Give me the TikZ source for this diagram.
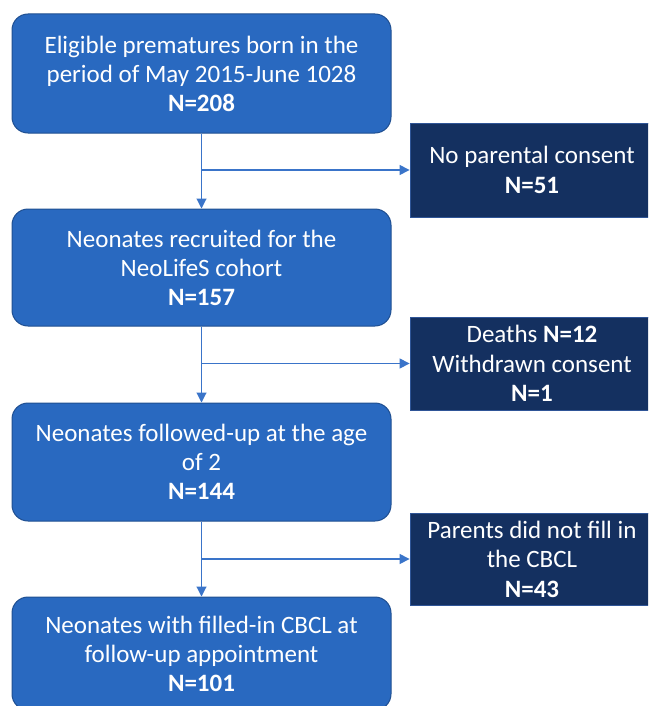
\documentclass[tikz,border=0pt]{standalone}
\usepackage{fontspec}
\setmainfont{Carlito}
\usetikzlibrary{arrows.meta}
\definecolor{mainfill}{HTML}{2969C0}
\definecolor{mainedge}{HTML}{1F4F91}
\definecolor{sidefill}{HTML}{143060}
\definecolor{sideedge}{HTML}{2F5597}
\definecolor{linkcol}{HTML}{3A74C9}
\tikzset{
  mainbox/.style={draw=mainedge, line width=1pt, fill=mainfill, rounded corners=16pt,
    minimum width=379pt, inner sep=0pt, align=center, text=white,
    font=\fontsize{25}{29}\selectfont},
  sidebox/.style={draw=sideedge, line width=0.8pt, fill=sidefill,
    minimum width=244pt, inner sep=0pt, align=center, text=white,
    font=\fontsize{25}{29.5}\selectfont},
  link/.style={draw=linkcol, line width=1.1pt, -{Triangle[length=10pt,width=10pt]}},
  plain/.style={draw=linkcol, line width=1.1pt}
}
\begin{document}
\begin{tikzpicture}[x=1pt,y=-1pt]
\useasboundingbox (0,0) rectangle (648,706);
\begin{scope}
\clip (0,0) rectangle (648,706);
\node[mainbox, minimum height=119pt] (b1) at (201.5,73.5)
  {Eligible prematures born in the\\period of May 2015-June 1028\\\textbf{N=208}};
\node[mainbox, minimum height=117pt] (b2) at (201.5,267.5)
  {Neonates recruited for the\\NeoLifeS cohort\\\textbf{N=157}};
\node[mainbox, minimum height=118pt] (b3) at (201.5,462)
  {Neonates followed-up at the age\\of 2\\\textbf{N=144}};
\node[mainbox, minimum height=113pt] (b4) at (201.5,653.5)
  {Neonates with filled-in CBCL at\\follow-up appointment\\\textbf{N=101}};
\node[sidebox, minimum height=94pt] (s1) at (532,170)
  {No parental consent\\\textbf{N=51}};
\node[sidebox, minimum height=93pt] (s2) at (532,363.5)
  {Deaths \textbf{N=12}\\Withdrawn consent\\\textbf{N=1}};
\node[sidebox, minimum height=92pt] (s3) at (532,559)
  {Parents did not fill in\\the CBCL\\\textbf{N=43}};
\end{scope}
\coordinate (j1) at (b1.south |- s1.west);
\coordinate (j2) at (b2.south |- s2.west);
\coordinate (j3) at (b3.south |- s3.west);
\draw[link] (b1.south) -- (b2.north);
\draw[link] (b2.south) -- (b3.north);
\draw[link] (b3.south) -- (b4.north);
\draw[link] (j1) -- (s1.west);
\draw[link] (j2) -- (s2.west);
\draw[link] (j3) -- (s3.west);
\end{tikzpicture}
\end{document}
